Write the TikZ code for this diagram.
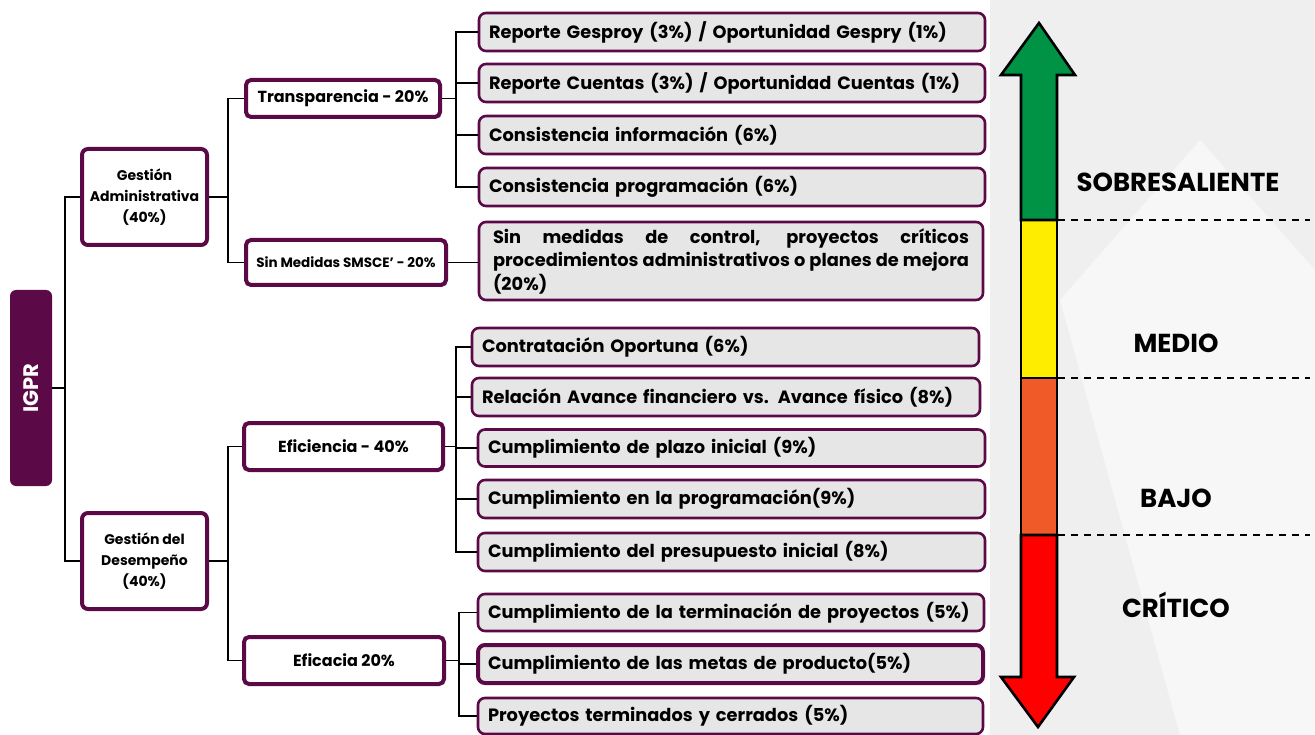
\documentclass[tikz,border=0pt]{standalone}
\usepackage{fontspec}
\setmainfont{Poppins}
\usetikzlibrary{calc}
\definecolor{igprpurple}{HTML}{5C0A47}
\definecolor{leafgrey}{HTML}{E6E6E6}
\definecolor{arrgreen}{HTML}{009245}
\definecolor{arryellow}{HTML}{FFED00}
\definecolor{arrorange}{HTML}{F05A28}
\definecolor{arrred}{HTML}{FF0000}
\definecolor{bggrey}{HTML}{EFEFEF}
\definecolor{bglight}{HTML}{F7F7F7}
\tikzset{
  mainbox/.style={draw=igprpurple, line width=4pt, rounded corners=6pt, fill=white, align=center, inner sep=2pt, font=\bfseries\fontsize{14}{21}\selectfont},
  midbox/.style={draw=igprpurple, line width=4pt, rounded corners=5pt, fill=white, align=center, inner sep=2pt, font=\bfseries\fontsize{16}{19}\selectfont},
  leafbox/.style={draw=igprpurple, line width=2.6pt, rounded corners=7pt, fill=leafgrey, align=left, inner xsep=10pt, inner ysep=2pt, font=\bfseries\fontsize{17.8}{22}\selectfont},
  conn/.style={line width=1.3pt, black},
  levellabel/.style={font=\bfseries\fontsize{26}{30}\selectfont, black},
  levelline/.style={line width=2.6pt, dash pattern=on 7pt off 6pt},
  arrpart/.style={draw=black, line width=2.6pt, line join=miter}
}
\begin{document}
\begin{tikzpicture}[x=1pt,y=-1pt]
\useasboundingbox (0,0) rectangle (1315,735);
\fill[white] (0,0) rectangle (1315,735);
% light background shapes on the right
\fill[bggrey] (990,0) -- (1315,0) -- (1315,735) -- (990,735) -- cycle;
\fill[bglight] (1060,300) -- (1200,140) -- (1315,270) -- (1315,735) -- (1180,735) -- cycle;
\fill[bglight] (1180,735) -- (1245,665) -- (1315,735) -- cycle;

% root
\node[fill=igprpurple, rounded corners=6pt, minimum width=42pt, minimum height=196pt, inner sep=0pt] (igpr) at (31,388) {};
\node[rotate=90, text=white, font=\bfseries\fontsize{21}{24}\selectfont] (igprt) at (igpr.center) {IGPR};

% level 1
\node[mainbox, minimum width=125pt, minimum height=96pt] (ga) at (144.5,197) {Gestión\\Administrativa\\(40\%)};
\node[mainbox, minimum width=125pt, minimum height=96pt] (gd) at (144.5,561) {Gestión del\\Desempeño\\(40\%)};

% level 2
\node[midbox, minimum width=194pt, minimum height=37pt] (tr) at (343,98.5) {Transparencia - 20\%};
\node[midbox, minimum width=200pt, minimum height=45pt, font=\bfseries\fontsize{13.5}{16}\selectfont] (sm) at (346,262.5) {Sin Medidas SMSCE' - 20\%};
\node[midbox, minimum width=199pt, minimum height=47pt] (efi) at (343.5,446.5) {Eficiencia - 40\%};
\node[midbox, minimum width=200pt, minimum height=47pt] (efc) at (344,660.5) {Eficacia 20\%};

% leaves: transparencia
\node[leafbox, minimum width=506pt, minimum height=38pt, text width=486pt] (t1) at (732,32) {Reporte Gesproy (3\%) / Oportunidad Gespry (1\%)};
\node[leafbox, minimum width=506pt, minimum height=38pt, text width=486pt] (t2) at (732,83) {Reporte Cuentas (3\%) / Oportunidad Cuentas (1\%)};
\node[leafbox, minimum width=506pt, minimum height=38pt, text width=486pt] (t3) at (732,135) {Consistencia información (6\%)};
\node[leafbox, minimum width=506pt, minimum height=38pt, text width=486pt] (t4) at (732,187) {Consistencia programación (6\%)};
% leaf: sin medidas
\node[leafbox, minimum width=504pt, minimum height=78pt, text width=476pt, align=justify, font=\bfseries\fontsize{17.8}{23.5}\selectfont] (s1) at (731,261) {\hyphenpenalty=10000 Sin medidas de control, proyectos críticos\linebreak procedimientos administrativos o planes de mejora\linebreak (20\%)};
% leaves: eficiencia
\node[leafbox, minimum width=507pt, minimum height=38pt, text width=487pt] (e1) at (725.5,347) {Contratación Oportuna (6\%)};
\node[leafbox, minimum width=508pt, minimum height=38pt, text width=488pt] (e2) at (726,397) {Relación Avance financiero vs. Avance físico (8\%)};
\node[leafbox, minimum width=507pt, minimum height=37pt, text width=487pt] (e3) at (731.5,448) {Cumplimiento de plazo inicial (9\%)};
\node[leafbox, minimum width=507pt, minimum height=38pt, text width=487pt] (e4) at (731.5,499) {Cumplimiento en la programación(9\%)};
\node[leafbox, minimum width=507pt, minimum height=38pt, text width=487pt] (e5) at (731.5,552) {Cumplimiento del presupuesto inicial (8\%)};
% leaves: eficacia
\node[leafbox, minimum width=506pt, minimum height=37pt, text width=486pt] (c1) at (731,612.5) {Cumplimiento de la terminación de proyectos (5\%)};
\node[leafbox, minimum width=505pt, minimum height=38pt, text width=485pt, line width=4pt] (c2) at (730.5,664) {Cumplimiento de las metas de producto(5\%)};
\node[leafbox, minimum width=505pt, minimum height=36pt, text width=485pt] (c3) at (730.5,716) {Proyectos terminados y cerrados (5\%)};

% buses
\coordinate (bus0) at (65,0);
\coordinate (bus1) at (228,0);
\coordinate (bus2) at (456,0);
\coordinate (bus3) at (459,0);

% connectors
\draw[conn] (igpr.east) -- (igpr.east -| bus0);
\draw[conn] (ga.west) -- (ga.west -| bus0) |- (igpr.east);
\draw[conn] (gd.west) -- (gd.west -| bus0) |- (igpr.east);
\draw[conn] (tr.west) -- (tr.west -| bus1) |- (ga.east);
\draw[conn] (sm.west) -- (sm.west -| bus1) |- (ga.east);
\draw[conn] (efi.west) -- (efi.west -| bus1) |- (gd.east);
\draw[conn] (efc.west) -- (efc.west -| bus1) |- (gd.east);
\foreach \n in {t1,t2,t3,t4}{\draw[conn] (\n.west) -- (\n.west -| bus2) |- (tr.east);}
\draw[conn] (sm.east) -- (s1.west |- sm.east);
\foreach \n in {e1,e2,e3,e4,e5}{\draw[conn] (\n.west) -- (\n.west -| bus2) |- (efi.east);}
\foreach \n in {c1,c2,c3}{\draw[conn] (\n.west) -- (\n.west -| bus3) |- (efc.east);}

% scale arrow
\draw[levelline] (1058,220) -- (1310,220);
\draw[levelline] (1058,378) -- (1310,378);
\draw[levelline] (1058,535) -- (1310,535);
\draw[arrpart, fill=arryellow] (1021,220) rectangle (1057,378);
\draw[arrpart, fill=arrorange] (1021,378) rectangle (1057,535);
\draw[arrpart, fill=arrgreen] (1039,23) -- (1075,75) -- (1057,75) -- (1057,220) -- (1021,220) -- (1021,75) -- (1001,75) -- cycle;
\draw[arrpart, fill=arrred] (1021,535) -- (1057,535) -- (1057,677) -- (1074,677) -- (1038,727) -- (1001,677) -- (1021,677) -- cycle;

\node[levellabel] (sob) at (1178,182) {SOBRESALIENTE};
\node[levellabel] (med) at (1176,343) {MEDIO};
\node[levellabel] (baj) at (1176,498) {BAJO};
\node[levellabel] (cri) at (1176,605) {CRÍTICO};
\end{tikzpicture}
\end{document}
